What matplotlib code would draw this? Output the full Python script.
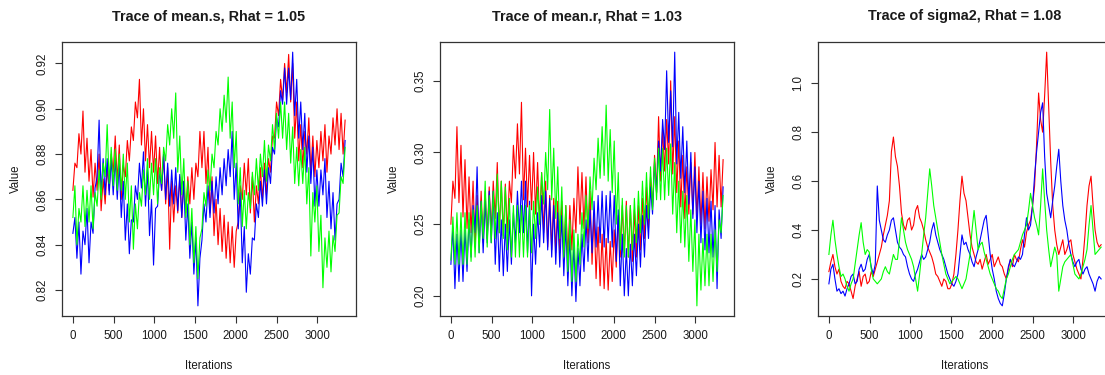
import numpy as np
import matplotlib
matplotlib.use("Agg")
import matplotlib.pyplot as plt
from matplotlib.ticker import FormatStrFormatter

# ---------------- data ----------------
# each chain: values read every ~25 iterations (low / high edge of the trace)
n_iter = 3340
chain_colors = ["#FF0000", "#0000FF", "#00FF00"]

titles = ["Trace of mean.s, Rhat = 1.05",
          "Trace of mean.r, Rhat = 1.03",
          "Trace of sigma2, Rhat = 1.08"]

x_ticks = [0, 500, 1000, 1500, 2000, 2500, 3000]
y_ticks_s = [0.82, 0.84, 0.86, 0.88, 0.90, 0.92]
y_ticks_r = [0.20, 0.25, 0.30, 0.35]
y_ticks_sig = [0.2, 0.4, 0.6, 0.8, 1.0]

red_s = [0.864, 0.876, 0.874, 0.889, 0.880, 0.899, 0.872, 0.887, 0.868, 0.882,
         0.861, 0.876, 0.864, 0.880, 0.855, 0.869, 0.858, 0.874, 0.864, 0.880,
         0.872, 0.888, 0.868, 0.884, 0.860, 0.875, 0.870, 0.886, 0.877, 0.892,
         0.886, 0.903, 0.896, 0.913, 0.884, 0.900, 0.877, 0.893, 0.874, 0.890,
         0.872, 0.888, 0.867, 0.883, 0.864, 0.880, 0.858, 0.874, 0.838, 0.868,
         0.850, 0.866, 0.854, 0.870, 0.852, 0.868, 0.854, 0.870, 0.858, 0.874,
         0.860, 0.876, 0.870, 0.890, 0.874, 0.890, 0.867, 0.883, 0.854, 0.870,
         0.844, 0.860, 0.840, 0.856, 0.837, 0.853, 0.834, 0.850, 0.832, 0.848,
         0.830, 0.846, 0.850, 0.866, 0.860, 0.876, 0.862, 0.878, 0.854, 0.870,
         0.850, 0.866, 0.858, 0.874, 0.860, 0.876, 0.862, 0.878, 0.872, 0.888,
         0.887, 0.903, 0.897, 0.913, 0.904, 0.920, 0.907, 0.924, 0.903, 0.920,
         0.887, 0.903, 0.877, 0.893, 0.874, 0.890, 0.880, 0.896, 0.872, 0.888,
         0.870, 0.886, 0.874, 0.890, 0.877, 0.893, 0.872, 0.888, 0.880, 0.896,
         0.884, 0.900, 0.882, 0.898, 0.880, 0.895]
blue_s = [0.845, 0.852, 0.834, 0.850, 0.827, 0.846, 0.840, 0.856, 0.832, 0.850,
          0.845, 0.865, 0.870, 0.895, 0.862, 0.878, 0.862, 0.878, 0.862, 0.878,
          0.862, 0.878, 0.860, 0.876, 0.852, 0.868, 0.842, 0.858, 0.836, 0.851,
          0.850, 0.866, 0.860, 0.876, 0.865, 0.881, 0.857, 0.873, 0.844, 0.860,
          0.831, 0.856, 0.857, 0.873, 0.864, 0.880, 0.860, 0.876, 0.857, 0.873,
          0.858, 0.874, 0.855, 0.871, 0.852, 0.868, 0.842, 0.858, 0.834, 0.850,
          0.827, 0.843, 0.813, 0.834, 0.842, 0.858, 0.850, 0.866, 0.852, 0.868,
          0.854, 0.870, 0.858, 0.874, 0.862, 0.878, 0.866, 0.882, 0.870, 0.890,
          0.860, 0.876, 0.847, 0.863, 0.832, 0.848, 0.819, 0.836, 0.827, 0.843,
          0.842, 0.858, 0.852, 0.868, 0.857, 0.873, 0.858, 0.874, 0.867, 0.883,
          0.880, 0.896, 0.892, 0.908, 0.902, 0.918, 0.902, 0.918, 0.904, 0.925,
          0.897, 0.913, 0.887, 0.903, 0.882, 0.898, 0.872, 0.888, 0.867, 0.883,
          0.857, 0.873, 0.857, 0.873, 0.862, 0.878, 0.852, 0.868, 0.847, 0.863,
          0.842, 0.858, 0.860, 0.876, 0.870, 0.886]
green_s = [0.852, 0.866, 0.840, 0.856, 0.850, 0.866, 0.848, 0.864, 0.850, 0.866,
           0.847, 0.863, 0.857, 0.873, 0.860, 0.876, 0.870, 0.893, 0.867, 0.883,
           0.866, 0.882, 0.864, 0.880, 0.864, 0.880, 0.860, 0.876, 0.850, 0.866,
           0.838, 0.858, 0.847, 0.863, 0.857, 0.873, 0.862, 0.878, 0.860, 0.876,
           0.862, 0.878, 0.858, 0.874, 0.867, 0.883, 0.877, 0.893, 0.884, 0.900,
           0.887, 0.907, 0.872, 0.888, 0.862, 0.878, 0.852, 0.868, 0.840, 0.856,
           0.832, 0.848, 0.825, 0.843, 0.847, 0.863, 0.857, 0.873, 0.864, 0.880,
           0.874, 0.890, 0.884, 0.900, 0.890, 0.906, 0.894, 0.914, 0.887, 0.903,
           0.874, 0.890, 0.858, 0.874, 0.848, 0.864, 0.847, 0.863, 0.856, 0.872,
           0.862, 0.878, 0.864, 0.880, 0.870, 0.886, 0.868, 0.884, 0.877, 0.893,
           0.882, 0.898, 0.887, 0.903, 0.887, 0.903, 0.882, 0.898, 0.876, 0.892,
           0.867, 0.883, 0.866, 0.882, 0.867, 0.883, 0.858, 0.874, 0.835, 0.863,
           0.850, 0.866, 0.837, 0.853, 0.821, 0.843, 0.830, 0.846, 0.828, 0.844,
           0.837, 0.853, 0.854, 0.870, 0.867, 0.883]

red_r = [0.250, 0.280, 0.268, 0.318, 0.265, 0.305, 0.255, 0.295, 0.247, 0.283,
         0.244, 0.280, 0.234, 0.270, 0.237, 0.273, 0.237, 0.273, 0.240, 0.276,
         0.244, 0.280, 0.254, 0.293, 0.244, 0.280, 0.242, 0.278, 0.244, 0.280,
         0.265, 0.305, 0.282, 0.320, 0.285, 0.335, 0.267, 0.303, 0.262, 0.298,
         0.260, 0.300, 0.257, 0.293, 0.250, 0.286, 0.244, 0.280, 0.234, 0.270,
         0.232, 0.268, 0.230, 0.266, 0.230, 0.266, 0.227, 0.263, 0.227, 0.263,
         0.232, 0.268, 0.244, 0.290, 0.250, 0.286, 0.247, 0.283, 0.237, 0.273,
         0.222, 0.258, 0.212, 0.248, 0.207, 0.243, 0.205, 0.240, 0.204, 0.238,
         0.210, 0.246, 0.220, 0.256, 0.227, 0.263, 0.230, 0.266, 0.227, 0.263,
         0.224, 0.260, 0.227, 0.263, 0.232, 0.268, 0.240, 0.276, 0.247, 0.283,
         0.262, 0.298, 0.272, 0.325, 0.280, 0.316, 0.287, 0.323, 0.292, 0.350,
         0.285, 0.325, 0.272, 0.308, 0.262, 0.298, 0.254, 0.290, 0.257, 0.293,
         0.257, 0.300, 0.254, 0.290, 0.250, 0.286, 0.247, 0.283, 0.252, 0.288,
         0.260, 0.307, 0.262, 0.298, 0.262, 0.295]
blue_r = [0.222, 0.248, 0.205, 0.243, 0.210, 0.246, 0.210, 0.246, 0.217, 0.253,
          0.227, 0.263, 0.244, 0.290, 0.230, 0.266, 0.230, 0.266, 0.237, 0.273,
          0.237, 0.273, 0.222, 0.258, 0.217, 0.253, 0.214, 0.250, 0.217, 0.253,
          0.222, 0.258, 0.237, 0.273, 0.244, 0.280, 0.244, 0.280, 0.230, 0.266,
          0.200, 0.250, 0.222, 0.258, 0.234, 0.270, 0.237, 0.273, 0.232, 0.268,
          0.227, 0.263, 0.222, 0.258, 0.220, 0.256, 0.214, 0.250, 0.207, 0.243,
          0.200, 0.236, 0.196, 0.233, 0.207, 0.243, 0.217, 0.253, 0.224, 0.260,
          0.230, 0.266, 0.234, 0.270, 0.237, 0.273, 0.234, 0.270, 0.237, 0.273,
          0.234, 0.270, 0.224, 0.260, 0.207, 0.243, 0.200, 0.233, 0.200, 0.236,
          0.207, 0.243, 0.214, 0.250, 0.220, 0.256, 0.227, 0.263, 0.240, 0.276,
          0.257, 0.293, 0.272, 0.308, 0.287, 0.323, 0.302, 0.357, 0.307, 0.343,
          0.304, 0.370, 0.292, 0.328, 0.282, 0.318, 0.272, 0.308, 0.264, 0.300,
          0.254, 0.290, 0.244, 0.280, 0.237, 0.273, 0.232, 0.268, 0.230, 0.266,
          0.227, 0.263, 0.205, 0.260, 0.240, 0.276]
green_r = [0.225, 0.255, 0.222, 0.258, 0.222, 0.258, 0.222, 0.258, 0.222, 0.258,
           0.224, 0.260, 0.227, 0.263, 0.230, 0.266, 0.240, 0.280, 0.234, 0.270,
           0.237, 0.273, 0.240, 0.285, 0.244, 0.280, 0.240, 0.276, 0.232, 0.268,
           0.227, 0.263, 0.227, 0.263, 0.227, 0.263, 0.227, 0.263, 0.227, 0.263,
           0.230, 0.266, 0.240, 0.276, 0.250, 0.286, 0.264, 0.300, 0.274, 0.330,
           0.267, 0.303, 0.254, 0.290, 0.240, 0.276, 0.227, 0.263, 0.217, 0.253,
           0.210, 0.246, 0.210, 0.243, 0.222, 0.258, 0.234, 0.270, 0.247, 0.283,
           0.260, 0.296, 0.274, 0.310, 0.282, 0.318, 0.284, 0.333, 0.280, 0.316,
           0.272, 0.308, 0.250, 0.286, 0.232, 0.268, 0.227, 0.263, 0.227, 0.263,
           0.232, 0.268, 0.237, 0.273, 0.244, 0.280, 0.250, 0.286, 0.254, 0.290,
           0.260, 0.296, 0.267, 0.303, 0.267, 0.303, 0.267, 0.303, 0.270, 0.306,
           0.257, 0.293, 0.244, 0.280, 0.237, 0.273, 0.234, 0.270, 0.224, 0.260,
           0.217, 0.253, 0.193, 0.243, 0.204, 0.240, 0.207, 0.243, 0.207, 0.243,
           0.210, 0.246, 0.217, 0.253, 0.244, 0.270]

red_sig = [0.23, 0.27, 0.30, 0.25, 0.22, 0.24, 0.19, 0.17, 0.16, 0.19,
           0.18, 0.15, 0.12, 0.17, 0.20, 0.23, 0.17, 0.21, 0.22, 0.18,
           0.19, 0.23, 0.21, 0.24, 0.27, 0.30, 0.33, 0.38, 0.42, 0.46,
           0.52, 0.72, 0.78, 0.70, 0.66, 0.58, 0.47, 0.42, 0.40, 0.44,
           0.45, 0.40, 0.42, 0.48, 0.50, 0.45, 0.43, 0.40, 0.36, 0.33,
           0.31, 0.29, 0.26, 0.22, 0.21, 0.19, 0.17, 0.20, 0.19, 0.16,
           0.16, 0.18, 0.22, 0.30, 0.40, 0.52, 0.62, 0.55, 0.52, 0.45,
           0.38, 0.33, 0.30, 0.27, 0.26, 0.28, 0.24, 0.27, 0.30, 0.26,
           0.28, 0.30, 0.25, 0.27, 0.29, 0.26, 0.25, 0.22, 0.20, 0.24,
           0.28, 0.25, 0.30, 0.28, 0.27, 0.32, 0.36, 0.33, 0.39, 0.42,
           0.44, 0.50, 0.58, 0.75, 0.96, 0.85, 0.80, 0.95, 1.127, 0.90,
           0.68, 0.50, 0.40, 0.34, 0.30, 0.33, 0.36, 0.30, 0.32, 0.35,
           0.36, 0.30, 0.27, 0.24, 0.22, 0.20, 0.28, 0.38, 0.50, 0.58,
           0.62, 0.50, 0.40, 0.35, 0.33, 0.34]
blue_sig = [0.18, 0.24, 0.26, 0.20, 0.15, 0.16, 0.14, 0.15, 0.13, 0.16,
            0.18, 0.21, 0.22, 0.18, 0.19, 0.24, 0.26, 0.23, 0.24, 0.28,
            0.30, 0.25, 0.22, 0.26, 0.58, 0.44, 0.40, 0.36, 0.35, 0.38,
            0.40, 0.44, 0.45, 0.40, 0.35, 0.33, 0.32, 0.30, 0.29, 0.25,
            0.22, 0.20, 0.19, 0.22, 0.24, 0.27, 0.30, 0.28, 0.29, 0.32,
            0.35, 0.40, 0.43, 0.38, 0.35, 0.32, 0.30, 0.28, 0.25, 0.22,
            0.20, 0.18, 0.17, 0.19, 0.22, 0.30, 0.38, 0.34, 0.35, 0.32,
            0.30, 0.27, 0.25, 0.29, 0.32, 0.36, 0.40, 0.44, 0.46, 0.38,
            0.30, 0.24, 0.20, 0.15, 0.12, 0.10, 0.09, 0.14, 0.20, 0.25,
            0.28, 0.26, 0.25, 0.27, 0.29, 0.28, 0.30, 0.38, 0.45, 0.40,
            0.42, 0.50, 0.62, 0.72, 0.80, 0.88, 0.92, 0.70, 0.55, 0.50,
            0.45, 0.52, 0.58, 0.66, 0.73, 0.60, 0.50, 0.44, 0.40, 0.34,
            0.30, 0.27, 0.25, 0.27, 0.28, 0.24, 0.22, 0.24, 0.25, 0.22,
            0.20, 0.18, 0.15, 0.19, 0.21, 0.20]
green_sig = [0.30, 0.38, 0.44, 0.36, 0.30, 0.25, 0.21, 0.22, 0.20, 0.17,
             0.15, 0.18, 0.20, 0.26, 0.32, 0.38, 0.43, 0.35, 0.30, 0.32,
             0.31, 0.24, 0.20, 0.19, 0.18, 0.19, 0.20, 0.23, 0.25, 0.23,
             0.22, 0.26, 0.30, 0.28, 0.28, 0.36, 0.45, 0.40, 0.35, 0.32,
             0.30, 0.28, 0.25, 0.20, 0.15, 0.22, 0.30, 0.38, 0.45, 0.55,
             0.65, 0.58, 0.50, 0.45, 0.40, 0.35, 0.30, 0.26, 0.22, 0.20,
             0.18, 0.19, 0.20, 0.21, 0.20, 0.18, 0.16, 0.18, 0.20, 0.25,
             0.30, 0.40, 0.48, 0.40, 0.32, 0.34, 0.35, 0.31, 0.28, 0.25,
             0.22, 0.20, 0.18, 0.16, 0.15, 0.13, 0.12, 0.16, 0.20, 0.22,
             0.25, 0.28, 0.30, 0.31, 0.32, 0.35, 0.38, 0.40, 0.42, 0.48,
             0.55, 0.50, 0.45, 0.42, 0.38, 0.50, 0.65, 0.52, 0.40, 0.32,
             0.25, 0.29, 0.33, 0.30, 0.15, 0.20, 0.25, 0.27, 0.28, 0.29,
             0.30, 0.26, 0.22, 0.21, 0.20, 0.22, 0.25, 0.28, 0.32, 0.42,
             0.50, 0.40, 0.30, 0.31, 0.32, 0.33]

panels = [
    ([red_s, blue_s, green_s], y_ticks_s, "%.2f"),
    ([red_r, blue_r, green_r], y_ticks_r, "%.2f"),
    ([red_sig, blue_sig, green_sig], y_ticks_sig, "%.1f"),
]

# ---------------- figure ----------------
W, H = 1105, 375
fig = plt.figure(figsize=(W / 100, H / 100), dpi=100)
plt.rcParams["font.family"] = ["Liberation Sans", "DejaVu Sans"]

box_lefts = [62, 440, 818]
box_top, box_bottom, box_w = 42, 316, 294
edge = "#333333"
txt = "#1a1a1a"

for k, (chains, yt, fmt) in enumerate(panels):
    ax = fig.add_axes([box_lefts[k] / W, (H - box_bottom) / H,
                       box_w / W, (box_bottom - box_top) / H])
    for vals, col in zip(chains, chain_colors):
        xs = np.linspace(1, n_iter, len(vals))
        ax.plot(xs, vals, color=col, lw=0.8)
    allv = np.concatenate([np.asarray(c) for c in chains])
    lo, hi = allv.min(), allv.max()
    ext = 0.04 * (hi - lo)
    ax.set_ylim(lo - ext, hi + ext)
    xext = 0.04 * (n_iter - 1)
    ax.set_xlim(1 - xext, n_iter + xext)
    ax.set_xticks(x_ticks)
    ax.set_yticks(yt)
    ax.yaxis.set_major_formatter(FormatStrFormatter(fmt))
    for s in ax.spines.values():
        s.set_color(edge)
        s.set_linewidth(0.9)
    ax.tick_params(axis="both", direction="out", length=4.8, width=0.8,
                   color=edge, labelsize=8.3, labelcolor=txt, pad=5.5)
    ax.tick_params(axis="y", pad=5.0)
    for lab in ax.get_yticklabels():
        lab.set_rotation(90)
        lab.set_va("center")
    ax.set_title(titles[k], fontsize=10.4, fontweight="bold", pad=15.5,
                 color=txt)
    ax.set_xlabel("Iterations", fontsize=8.3, color=txt, va="baseline")
    ax.xaxis.set_label_coords(0.5, -53 / 274)
    ax.set_ylabel("Value", fontsize=8.3, color=txt)
    ax.yaxis.set_label_coords(-40 / 294, 0.5)

fig.savefig("out.png", dpi=100)
